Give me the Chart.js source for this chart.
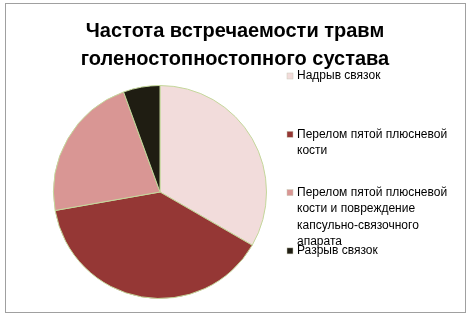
<!DOCTYPE html>
<html>
<head>
<meta charset="utf-8">
<script src="https://cdn.jsdelivr.net/npm/chart.js@4"></script>
<style>
  html, body { margin: 0; padding: 0; background: #fff; }
  #wrap { position: relative; width: 470px; height: 319px; }
</style>
</head>
<body>
<div id="wrap"><canvas id="myChart" width="470" height="319"></canvas></div>
<script>
// chart data
const titleLines = ['Частота встречаемости травм', 'голеностопностопного сустава'];
const categories = [
    ['Надрыв связок'],
    ['Перелом пятой плюсневой', 'кости'],
    ['Перелом пятой плюсневой', 'кости и повреждение', 'капсульно-связочного', 'апарата'],
    ['Разрыв связок']
];
const counts = [6, 7, 4, 1];
const sliceColors = ['#F2DCDB', '#953735', '#D99694', '#1F1D12'];

// draws the frame, the title and the wrapped legend on the right
const decorPlugin = {
    id: 'decor',
    beforeDraw(chart) {
        const ctx = chart.ctx;
        ctx.save();
        ctx.strokeStyle = '#a0a0a0';
        ctx.lineWidth = 1;
        ctx.strokeRect(5.5, 3.5, 460, 309);
        ctx.restore();
    },
    afterDraw(chart) {
        const ctx = chart.ctx;
        ctx.save();
        ctx.fillStyle = '#000';
        ctx.font = 'bold 20px "Liberation Sans"';
        ctx.textAlign = 'center';
        ctx.textBaseline = 'alphabetic';
        ctx.fillText(titleLines[0], 235, 37);
        ctx.fillText(titleLines[1], 235, 65);

        ctx.font = '12px "Liberation Sans"';
        ctx.textAlign = 'left';
        ctx.textBaseline = 'middle';
        const labels = chart.data.labels;
        const colors = chart.data.datasets[0].backgroundColor;
        let y = 76;
        labels.forEach((lines, i) => {
            ctx.fillStyle = colors[i];
            ctx.fillRect(287, y - 3, 6, 6);
            ctx.strokeStyle = '#c9c9b8';
            ctx.lineWidth = 0.5;
            ctx.strokeRect(287, y - 3, 6, 6);
            ctx.fillStyle = '#000';
            lines.forEach((ln, j) => {
                ctx.fillText(ln, 297, y + j * 16.3);
            });
            y += 58.3;
        });
        ctx.restore();
    }
};

const ctx = document.getElementById('myChart').getContext('2d');
const myChart = new Chart(ctx, {
    type: 'pie',
    data: {
        labels: categories,
        datasets: [{
            data: counts,
            backgroundColor: sliceColors,
            borderColor: '#C4D79B',
            borderWidth: 1
        }]
    },
    options: {
        responsive: false,
        animation: false,
        layout: {
            padding: { left: 53, right: 203, top: 85, bottom: 20 }
        },
        plugins: {
            legend: { display: false },
            title: { display: false },
            tooltip: { enabled: false }
        }
    },
    plugins: [decorPlugin]
});
</script>
</body>
</html>
